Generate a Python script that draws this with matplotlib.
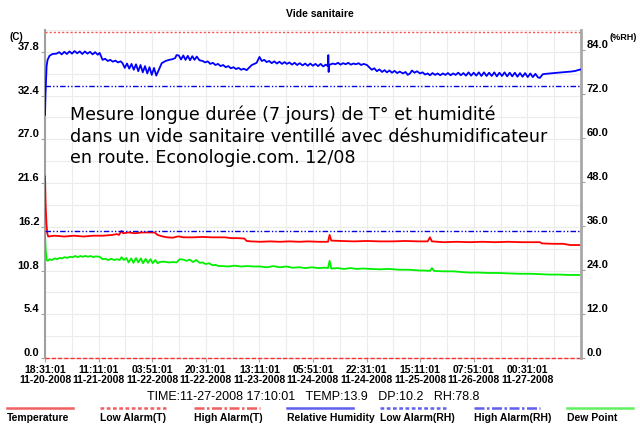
import matplotlib
matplotlib.use("Agg")
import matplotlib.pyplot as plt
from matplotlib.lines import Line2D

plt.rcParams['font.family'] = ['Liberation Sans', 'DejaVu Sans']

# ---- data (hours since 11-20-2008 18:31:01) ----
temp_hours = [0.0, 0.2, 0.45, 0.7, 1.0, 3, 6, 9, 12, 15, 18, 21, 22.3, 23.0, 23.8, 24.3, 26, 28, 30, 32,
              34.1, 35.0, 36.6, 38, 39.7, 41.2, 41.9, 43, 46, 49, 52, 55.9, 58, 60, 62.0, 62.7, 64, 67, 70,
              73, 76, 79, 82, 85, 88.0, 88.5, 89.0, 92, 96, 100, 104, 108, 112, 116, 119.0, 119.7, 120.3,
              124, 128, 132, 136, 140, 144, 148, 152, 153.9, 154.5, 158, 161.1, 163.3, 166.7]
temp_values = [22.4, 18.8, 16.6, 15.4, 15.0, 15.1, 15.0, 15.1, 15.0, 15.1, 15.1, 15.2, 15.3, 15.2, 15.7,
               15.4, 15.5, 15.4, 15.5, 15.5, 15.5, 15.2, 15.0, 14.9, 14.85, 15.0, 15.0, 14.9, 14.9, 14.95,
               14.9, 14.9, 14.8, 14.8, 14.75, 14.45, 14.4, 14.35, 14.4, 14.35, 14.4, 14.35, 14.4, 14.35,
               14.35, 15.2, 14.5, 14.45, 14.4, 14.45, 14.4, 14.4, 14.45, 14.4, 14.4, 14.9, 14.4, 14.3,
               14.35, 14.3, 14.35, 14.3, 14.35, 14.3, 14.3, 14.3, 14.15, 14.1, 14.1, 13.95, 13.95]

dew_hours = [0.0, 0.2, 0.5, 0.9, 1.4, 2.2, 3.0, 3.8, 4.5, 5.3, 6.1, 6.9, 7.7, 8.6, 9.4, 10.2, 11.0, 11.8,
             12.6, 13.4, 14.2, 15.0, 15.8, 17.0, 17.9, 18.8, 19.7, 20.6, 21.5, 22.4, 23.2, 23.8, 24.5, 25.3,
             26.0, 26.8, 27.5, 28.3, 29.0, 29.8, 30.5, 31.3, 32.0, 32.8, 33.5, 34.3, 35.0, 35.6, 37, 38.5,
             40, 40.9, 41.9, 43, 44, 45, 46, 47, 48.1, 49, 50, 51, 52.1, 53, 54, 55.2, 57, 59, 61, 63, 65,
             66.8, 69, 71, 73, 75, 77, 79.2, 81, 83, 85, 87, 88.0, 88.5, 89.0, 91, 93, 95, 97, 99, 101, 104,
             107, 110, 113, 116.6, 118, 119.7, 120.3, 121, 124, 127, 130, 132.1, 135, 138, 141, 144, 147.7,
             151, 154, 157, 160.1, 163, 166.7]
dew_values = [15.3, 13.4, 12.1, 12.0, 12.2, 12.1, 12.3, 12.2, 12.35, 12.3, 12.45, 12.35, 12.5, 12.45, 12.6,
              12.45, 12.6, 12.5, 12.6, 12.5, 12.6, 12.45, 12.55, 12.5, 12.2, 12.25, 12.1, 12.25, 12.1, 12.2,
              12.1, 12.45, 12.1, 12.35, 11.8, 12.3, 11.75, 12.35, 11.8, 12.3, 11.7, 12.25, 11.75, 12.2, 11.7,
              12.1, 11.7, 11.85, 11.9, 11.8, 11.85, 11.8, 12.2, 12.15, 12.0, 12.15, 11.85, 12.1, 11.75, 11.8,
              11.6, 11.7, 11.45, 11.5, 11.35, 11.35, 11.3, 11.4, 11.3, 11.35, 11.3, 11.3, 11.2, 11.35, 11.2,
              11.3, 11.15, 11.2, 11.1, 11.2, 11.1, 11.15, 11.1, 12.0, 11.05, 11.1, 11.0, 11.1, 11.0, 11.05,
              11.0, 10.95, 11.0, 10.9, 10.9, 10.8, 10.8, 10.75, 11.1, 10.75, 10.7, 10.7, 10.6, 10.55, 10.55,
              10.5, 10.5, 10.45, 10.4, 10.4, 10.35, 10.3, 10.3, 10.25, 10.25]

rh_hours = [0.0, 0.15, 0.5, 0.8, 1.4, 2.3, 3.6, 4.4, 5.2, 6.0, 6.8, 7.6, 8.4, 9.2, 10.0, 10.8, 11.6, 12.4,
            13.2, 14.0, 14.8, 15.6, 16.4, 17.0, 17.9, 18.7, 19.5, 20.3, 21.1, 21.9, 22.7, 23.5,
            24.1, 24.8, 25.5, 26.2, 26.9, 27.6, 28.3, 29.0, 29.7, 30.4, 31.1, 31.8, 32.5, 33.2, 33.9, 34.6,
            35.1, 36.3, 37.5, 38.6, 39.7, 40.5, 40.9, 41.6, 42.3, 43.0, 43.7, 44.4, 45.1, 45.8, 46.5, 47.2,
            48.0, 49.0, 49.8, 50.6, 51.4, 52.2, 53.0, 53.8, 54.6, 55.4, 56.2, 57.0, 57.8, 58.6, 59.4, 60.2,
            61.0, 61.8, 62.7, 63.5, 64.3, 65.1, 65.8, 66.7, 67.4, 68.2, 68.9, 69.7, 70.5, 71.3, 72.1, 72.9,
            73.7, 74.5, 75.2, 76.0, 76.8, 77.6, 78.4, 79.2, 80.1, 80.9, 81.7, 82.5, 83.3, 84.1, 84.9, 85.7,
            86.5, 87.3, 88.0, 88.1, 88.2, 88.3, 89.5, 90.3, 91.1, 91.9, 92.7, 93.5, 94.3, 95.1, 95.9, 96.7,
            97.5, 98.3, 99.1, 100.1, 101.6, 102.4, 103.2, 104.0, 104.8, 105.6, 106.3, 107.1, 107.9, 108.7,
            109.5, 110.3, 111.3, 112.1, 112.8, 113.5, 114.1, 114.9, 115.7, 116.6, 117.4, 118.2, 119.0, 119.7,
            120.5, 121.3, 122.1, 122.9, 123.7, 124.5, 125.3, 126.1, 126.9, 127.7, 128.5, 129.3, 130.1, 130.9,
            131.7, 132.5, 133.3, 134.1, 134.9, 135.7, 136.5, 137.3, 138.1, 138.9, 139.7, 140.5, 141.3, 142.1,
            142.9, 143.7, 144.5, 145.3, 146.1, 146.9, 147.7, 148.5, 149.3, 150.1, 150.9, 151.7, 152.5, 153.3,
            153.9, 154.8, 155.8, 157.0, 158.2, 159.2, 160.5, 162.0, 163.5, 165.0, 165.7, 166.6]
rh_values = [66.3, 71.7, 79.6, 81.3, 82.4, 82.9, 83.0, 83.4, 82.8, 83.5, 82.9, 83.6, 83.0, 83.7, 83.1, 83.6,
             82.9, 83.6, 83.0, 83.5, 82.8, 83.4, 82.7, 83.2, 81.3, 81.6, 81.0, 81.3, 80.8, 81.1, 80.6, 80.9,
             80.4, 79.1, 80.3, 78.9, 80.2, 78.6, 80.1, 78.2, 79.9, 77.9, 79.6, 77.6, 79.3, 77.2, 79.1, 77.0,
             78.0, 80.4, 81.0, 81.3, 81.5, 81.8, 82.6, 82.5, 81.4, 82.5, 81.3, 82.4, 81.2, 82.3, 81.3, 82.2,
             81.2, 81.0, 80.6, 80.9, 80.2, 80.5, 79.9, 80.2, 79.6, 79.9, 79.3, 79.6, 79.0, 79.3, 78.8, 79.1,
             78.6, 78.9, 78.5, 79.2, 79.9, 80.2, 80.5, 82.1, 81.0, 81.3, 80.7, 81.0, 80.4, 80.9, 80.3, 80.8,
             80.2, 80.7, 80.2, 80.6, 80.0, 80.5, 79.9, 80.4, 79.8, 80.3, 79.7, 80.3, 79.7, 80.2, 79.6, 80.2,
             79.5, 80.0, 79.6, 82.6, 78.0, 79.9, 80.3, 80.1, 80.5, 80.0, 80.4, 80.1, 80.5, 80.0, 80.3, 80.1,
             80.4, 79.9, 80.2, 79.9, 78.6, 79.0, 78.2, 78.7, 78.0, 78.5, 77.9, 78.4, 77.8, 78.3,
             77.7, 78.1, 77.6, 78.0, 77.2, 77.6, 78.4, 77.8, 78.2, 77.6, 77.9, 77.3, 77.6, 77.1,
             77.7, 77.2, 77.6, 77.1, 77.6, 77.2, 77.7, 77.1, 77.6, 77.2, 77.8, 77.1, 77.7, 77.0,
             77.9, 77.0, 77.8, 77.0, 77.9, 76.9, 77.9, 76.9, 77.8, 76.9, 77.9, 76.8, 77.8, 76.9,
             77.9, 76.8, 77.8, 76.8, 77.8, 76.7, 77.7, 76.7, 77.7, 76.6, 77.6, 76.6, 77.5, 76.5,
             76.4, 77.4, 77.5, 77.6, 77.7, 77.8, 77.9, 78.0, 78.1, 78.3, 78.5, 78.7]

temp_alarm_low = 0.0
temp_alarm_high = 40.2
rh_alarm_low = 34.6
rh_alarm_high = 74.3

tick_hours = [0, 16.667, 33.333, 50, 66.667, 83.333, 100, 116.667, 133.333, 150]
tick_labels = ["18:31:01\n11-20-2008", "11:11:01\n11-21-2008", "03:51:01\n11-22-2008",
               "20:31:01\n11-22-2008", "13:11:01\n11-23-2008", "05:51:01\n11-24-2008",
               "22:31:01\n11-24-2008", "15:11:01\n11-25-2008", "07:51:01\n11-26-2008",
               "00:31:01\n11-27-2008"]
temp_ticks = [0.0, 5.4, 10.8, 16.2, 21.6, 27.0, 32.4, 37.8]
rh_ticks = [0.0, 12.0, 24.0, 36.0, 48.0, 60.0, 72.0, 84.0]

legend_names = ["Temperature", "Low Alarm(T)", "High Alarm(T)", "Relative Humidity",
                "Low Alarm(RH)", "High Alarm(RH)", "Dew Point"]

note = ("Mesure longue durée (7 jours) de T° et humidité\n"
        "dans un vide sanitaire ventillé avec déshumidificateur\n"
        "en route. Econologie.com. 12/08")
status = "TIME:11-27-2008 17:10:01   TEMP:13.9   DP:10.2   RH:78.8"

W, H = 640, 429
fig = plt.figure(figsize=(6.4, 4.29), dpi=100)
ax = fig.add_axes([45 / W, 71 / H, 536 / W, 328 / H])
ax2 = ax.twinx()

t_top = 40.25
ax.set_xlim(0, 166.67)
ax.set_ylim(0, t_top)
ax2.set_ylim(0, t_top * 84 / 37.8)

# grid
ax.set_xticks(tick_hours)
ax.set_xticks([h + 8.333 for h in tick_hours], minor=True)
ax.set_yticks(temp_ticks)
ax.set_yticks([t + 2.7 for t in temp_ticks], minor=True)
ax.grid(which='both', color='#ececec', lw=0.8)
ax.set_axisbelow(True)

# series
ax.plot(dew_hours, dew_values, color='#00f000', lw=1.3, zorder=3)
ax.plot(temp_hours, temp_values, color='#ff0000', lw=1.3, zorder=3)
ax2.plot(rh_hours, rh_values, color='#0000ff', lw=1.3, zorder=3)

# alarms
ax.axhline(temp_alarm_low, color='#ff3030', lw=1, dashes=(3, 1.5), clip_on=False, zorder=4)
ax.axhline(temp_alarm_high, color='#ff5050', lw=1, dashes=(1.5, 1.5), clip_on=False, zorder=4)
ax2.axhline(rh_alarm_high, color='#0000e0', lw=1, dashes=(4, 1.5, 1, 1.5, 1, 1.5), zorder=2)
ax2.axhline(rh_alarm_low, color='#0000e0', lw=1, dashes=(4, 1.5, 1, 1.5, 1, 1.5), zorder=2)

# axes styling
ax.set_xticklabels(tick_labels, fontsize=7.5, fontweight='bold', linespacing=1.05)
ax.set_yticklabels(["%.1f" % t for t in temp_ticks], fontsize=8, fontweight='bold')
ax2.set_yticks(rh_ticks)
ax2.set_yticklabels(["%.1f" % r for r in rh_ticks], fontsize=8, fontweight='bold')
plt.setp(ax.get_yticklabels(), va='bottom')
plt.setp(ax2.get_yticklabels(), va='bottom')
ax.tick_params(which='minor', length=0)
ax2.tick_params(which='minor', length=0)
ax.tick_params(axis='y', length=3, color='#a0a0a0', pad=1)
ax.tick_params(axis='x', length=3, color='#a0a0a0', pad=2)
ax2.tick_params(axis='y', length=3, color='#a0a0a0', pad=1)

for s in ['top', 'right']:
    ax.spines[s].set_visible(False)
ax.spines['bottom'].set_color('#d0d0d0')
ax.spines['left'].set_color('#a0a0a0')
ax.spines['left'].set_linewidth(1.5)
for s in ['top', 'left', 'bottom']:
    ax2.spines[s].set_visible(False)
ax2.spines['right'].set_color('#a8a8a8')
ax2.spines['right'].set_linewidth(2)

# texts
fig.text(320 / W, 1 - 14 / H, "Vide sanitaire", ha='center', va='center', fontsize=7.5, fontweight='bold')
fig.text(9 / W, 1 - 37 / H, "(C)", ha='left', va='center', fontsize=7, fontweight='bold')
fig.text(637 / W, 1 - 37 / H, "(%RH)", ha='right', va='center', fontsize=6.5, fontweight='bold')
fig.text(70 / W, 1 - 106 / H, note, ha='left', va='top', fontsize=12.6,
         family='DejaVu Sans', linespacing=1.22)
fig.text(313 / W, 1 - 397 / H, status, ha='center', va='center', fontsize=9)

# legend row
leg_styles = [
    dict(color='#f06060', ls='-'),
    dict(color='#f06060', dashes=(1.5, 1)),
    dict(color='#f06060', dashes=(4, 1, 1, 1)),
    dict(color='#6060f0', ls='-'),
    dict(color='#6060f0', dashes=(1.5, 1)),
    dict(color='#6060f0', dashes=(4, 1, 1, 1)),
    dict(color='#60f060', ls='-'),
]
for i, (name, st) in enumerate(zip(legend_names, leg_styles)):
    x0 = 7 + i * 93.3
    fig.add_artist(Line2D([x0 / W, (x0 + 66) / W], [1 - 408 / H, 1 - 408 / H],
                          transform=fig.transFigure, lw=1.8, **st))
    fig.text(x0 / W, 1 - 418 / H, name, ha='left', va='center', fontsize=7.5, fontweight='bold')

fig.savefig("out.png", dpi=100)
